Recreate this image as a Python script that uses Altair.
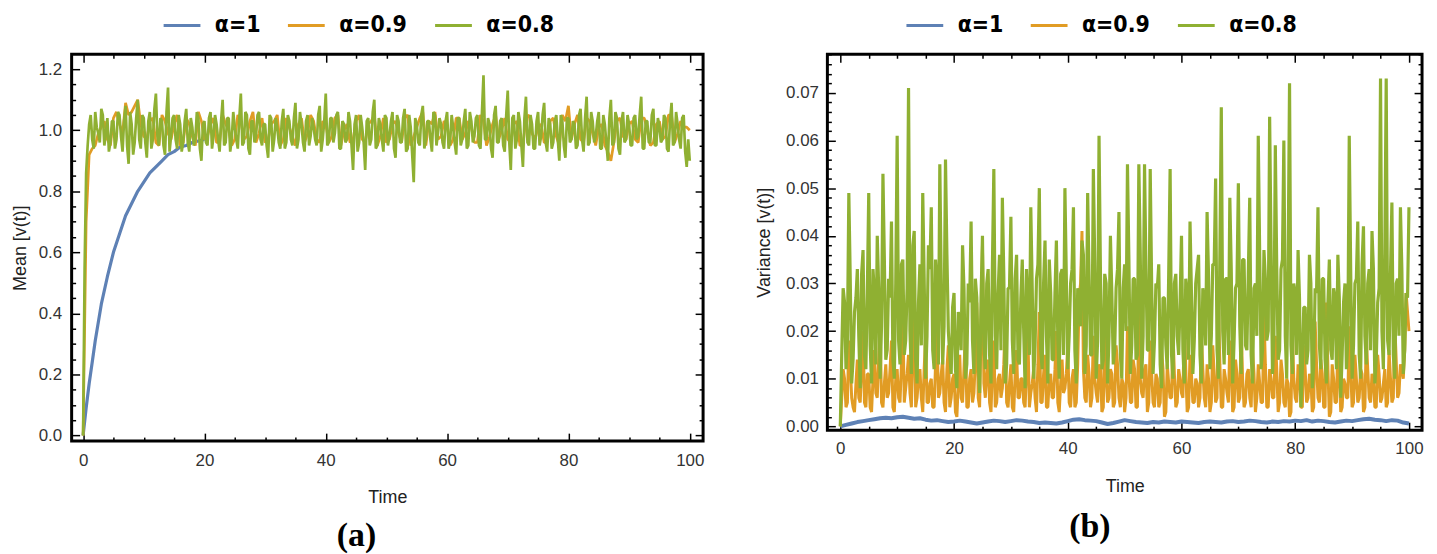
import altair as alt
import pandas as pd

# ---------------- series names / colours ----------------
SERIES = ["α=1", "α=0.9", "α=0.8"]
COLORS = ["#5E81B5", "#E19C24", "#8FB032"]

# ---------------- tick labels ----------------
X_LABELS = [0, 20, 40, 60, 80, 100]
X_MINOR = list(range(0, 101, 5))
A_Y_LABELS = [0.0, 0.2, 0.4, 0.6, 0.8, 1.0, 1.2]
A_Y_MINOR = [round(i * 0.05, 2) for i in range(25)]
B_Y_LABELS = [0.0, 0.01, 0.02, 0.03, 0.04, 0.05, 0.06, 0.07]
B_Y_MINOR = [round(i * 0.002, 3) for i in range(40)]

# time grids
T_ONE = list(range(101))                      # 0, 1, ..., 100
T_MID = [i + 0.5 for i in range(100)]         # 0.5, 1.5, ..., 99.5
T_HALF = [i / 2 for i in range(201)]          # 0, 0.5, ..., 100
T_QUARTER = [i / 2 + 0.25 for i in range(200)]  # 0.25, 0.75, ..., 99.75

# ---------------- panel (a): Mean ----------------
# blue is only visible until it disappears under the noisy curves
A_BLUE_T = [0, 0.5, 1, 1.5, 2, 3, 4, 5, 6, 7, 8, 9, 10, 11, 12, 13, 14, 15, 16, 17, 18, 19, 20]
A_BLUE_V = [0.0, 0.09, 0.17, 0.24, 0.31, 0.43, 0.52, 0.60, 0.66, 0.72, 0.76, 0.80, 0.83, 0.86,
            0.88, 0.90, 0.92, 0.93, 0.945, 0.95, 0.96, 0.965, 0.97]

# orange, at integer times
A_ORANGE_V = [
    0.00, 0.92, 0.95, 1.01, 0.97, 1.04, 1.02, 1.09, 1.06, 1.10, 0.98,
    1.03, 0.96, 1.05, 0.99, 1.02, 0.95, 1.04, 0.98, 1.06, 0.97,
    1.02, 0.96, 1.05, 1.00, 0.97, 1.03, 0.98, 1.06, 0.99, 0.96,
    1.02, 1.05, 0.97, 1.01, 0.95, 1.04, 0.99, 1.03, 0.96, 1.02,
    0.98, 1.05, 1.00, 0.96, 1.03, 0.97, 1.02, 1.05, 0.98, 0.96,
    1.02, 0.99, 1.04, 0.95, 1.01, 1.06, 1.03, 1.06, 0.98, 1.02,
    0.97, 1.04, 0.99, 1.01, 0.96, 1.03, 0.98, 1.05, 1.00, 0.97,
    1.02, 0.95, 1.04, 0.99, 1.01, 0.96, 1.03, 0.98, 1.05, 1.08,
    1.02, 0.97, 1.04, 0.99, 1.01, 0.95, 0.90, 1.03, 0.98, 1.02,
    0.97, 1.04, 1.00, 0.96, 1.03, 0.98, 1.05, 0.99, 1.01, 1.00]
# orange, at half times
A_ORANGE_M = [
    0.70, 0.94, 0.99, 1.03, 0.95, 1.06, 0.99, 1.05, 1.08, 1.02,
    0.97, 1.04, 0.95, 1.03, 0.97, 1.05, 0.96, 1.02, 0.95, 1.03,
    0.98, 1.04, 0.96, 1.02, 0.95, 1.05, 0.97, 1.03, 0.96, 1.04,
    0.97, 1.03, 0.95, 1.04, 0.98, 1.02, 0.96, 1.05, 0.97, 1.03,
    0.96, 1.04, 0.95, 1.02, 0.97, 1.05, 0.96, 1.03, 0.95, 1.04,
    0.97, 1.03, 0.96, 1.05, 0.98, 1.04, 0.95, 1.02, 0.97, 1.03,
    0.95, 1.04, 0.97, 1.03, 0.96, 1.05, 0.95, 1.02, 0.97, 1.04,
    0.96, 1.03, 0.95, 1.05, 0.97, 1.02, 0.96, 1.04, 0.95, 1.03,
    0.97, 1.05, 0.96, 1.03, 0.95, 1.02, 0.93, 0.96, 1.04, 0.97,
    1.03, 0.96, 1.04, 0.95, 1.02, 0.97, 1.05, 0.96, 1.03, 1.01]

# green, at 0, 0.5, ..., 100
A_GREEN_V = [
    0.00, 0.86, 1.02, 0.97, 1.06, 0.99, 1.07, 0.95, 1.04, 0.96,
    1.03, 0.97, 1.05, 0.93, 1.08, 0.89, 1.02, 0.96, 1.10, 0.94,
    1.04, 0.91, 1.06, 0.97, 1.12, 0.95, 1.03, 0.92, 1.14, 0.98,
    1.05, 0.94, 1.02, 0.96, 1.07, 0.93, 1.01, 0.97, 1.04, 0.90,
    1.03, 0.95, 1.06, 0.98, 1.02, 0.93, 1.10, 0.96, 1.04, 0.97,
    1.01, 0.94, 1.12, 0.96, 1.05, 0.92, 1.03, 0.98, 1.06, 0.95,
    1.02, 0.91, 1.04, 0.97, 1.01, 0.94, 1.07, 0.96, 1.03, 0.95,
    1.09, 0.97, 1.02, 0.93, 1.05, 0.98, 1.01, 0.95, 1.08, 0.97,
    1.12, 0.96, 1.04, 0.99, 1.06, 0.94, 1.02, 0.97, 1.03, 0.87,
    1.05, 0.96, 1.01, 0.87, 1.04, 0.97, 1.10, 0.95, 1.02, 0.93,
    1.04, 0.98, 1.06, 0.91, 1.03, 0.96, 1.07, 0.94, 1.01, 0.83,
    1.02, 0.95, 1.08, 0.97, 1.03, 0.93, 1.05, 0.99, 1.02, 0.94,
    1.06, 0.96, 1.01, 0.92, 1.04, 0.97, 1.07, 0.95, 1.03, 0.98,
    1.05, 0.94, 1.18, 0.97, 1.02, 0.91, 1.08, 0.96, 1.04, 0.93,
    1.13, 0.87, 1.05, 0.97, 1.03, 0.88, 1.11, 0.95, 1.02, 0.94,
    1.06, 0.98, 1.09, 0.93, 1.02, 0.96, 1.05, 0.90, 1.03, 0.91,
    1.04, 0.97, 1.02, 0.95, 1.07, 0.93, 1.11, 0.96, 1.03, 0.98,
    1.06, 0.94, 1.02, 0.90, 1.10, 0.96, 1.04, 0.92, 1.06, 0.97,
    1.02, 0.95, 1.05, 0.98, 1.11, 0.94, 1.03, 0.96, 1.07, 0.95,
    1.01, 0.97, 1.04, 0.93, 1.09, 0.96, 1.02, 0.94, 1.05, 0.88,
    0.90]
# green, at 0.25, 0.75, ..., 99.75
A_GREEN_Q = [
    0.55, 0.95, 1.05, 0.94, 1.01, 0.96, 1.05, 0.99, 0.93, 1.03,
    0.94, 1.06, 0.98, 1.03, 0.95, 1.06, 0.92, 1.04, 0.97, 1.05,
    0.96, 1.03, 0.94, 1.07, 0.98, 1.04, 0.95, 1.06, 0.93, 1.04,
    0.97, 1.05, 0.93, 1.03, 0.96, 1.04, 0.95, 1.06, 0.94, 1.02,
    0.96, 1.04, 0.94, 1.05, 0.97, 1.03, 0.95, 1.04, 0.93, 1.06,
    0.97, 1.04, 0.95, 1.06, 0.94, 1.03, 0.96, 1.05, 0.97, 1.02,
    0.95, 1.05, 0.93, 1.04, 0.96, 1.03, 0.94, 1.05, 0.97, 1.04,
    0.94, 1.06, 0.96, 1.03, 0.95, 1.04, 0.97, 1.05, 0.93, 1.03,
    0.95, 1.04, 0.96, 1.05, 0.94, 1.03, 0.96, 1.06, 0.95, 1.02,
    0.93, 1.05, 0.96, 1.03, 0.95, 1.06, 0.94, 1.04, 0.97, 1.05,
    0.95, 1.03, 0.94, 1.05, 0.96, 1.04, 0.93, 1.05, 0.92, 1.04,
    0.96, 1.05, 0.94, 1.03, 0.97, 1.06, 0.95, 1.04, 0.96, 1.03,
    0.94, 1.05, 0.96, 1.04, 0.95, 1.03, 0.94, 1.06, 0.96, 1.04,
    0.95, 1.06, 0.97, 1.04, 0.94, 1.05, 0.96, 1.03, 0.95, 1.05,
    0.96, 1.04, 0.94, 1.06, 0.95, 1.04, 0.96, 1.05, 0.94, 1.03,
    0.95, 1.05, 0.96, 1.04, 0.94, 1.03, 0.97, 1.05, 0.95, 1.04,
    0.96, 1.03, 0.94, 1.05, 0.97, 1.04, 0.95, 1.06, 0.96, 1.03,
    0.94, 1.05, 0.96, 1.04, 0.95, 1.06, 0.94, 1.03, 0.96, 1.05,
    0.95, 1.04, 0.97, 1.05, 0.94, 1.03, 0.96, 1.05, 0.95, 1.04,
    0.96, 1.05, 0.94, 1.03, 0.95, 1.06, 0.97, 1.04, 0.93, 0.97]

# ---------------- panel (b): Variance ----------------
B_BLUE_V = [
    0.0000, 0.0003, 0.0006, 0.0009, 0.0011, 0.0013, 0.0015, 0.0017, 0.0018, 0.0017,
    0.0019, 0.0020, 0.0018, 0.0016, 0.0017, 0.0014, 0.0012, 0.0013, 0.0011, 0.0009,
    0.0010, 0.0012, 0.0010, 0.0008, 0.0006, 0.0008, 0.0010, 0.0012, 0.0011, 0.0009,
    0.0011, 0.0013, 0.0012, 0.0010, 0.0009, 0.0007, 0.0008, 0.0007, 0.0006, 0.0008,
    0.0011, 0.0014, 0.0015, 0.0013, 0.0012, 0.0011, 0.0008, 0.0005, 0.0007, 0.0010,
    0.0013, 0.0011, 0.0009, 0.0008, 0.0007, 0.0009, 0.0008, 0.0010, 0.0009, 0.0008,
    0.0010, 0.0009, 0.0008, 0.0007, 0.0009, 0.0010, 0.0009, 0.0008, 0.0010, 0.0011,
    0.0009, 0.0010, 0.0012, 0.0011, 0.0009, 0.0008, 0.0010, 0.0009, 0.0011, 0.0010,
    0.0012, 0.0011, 0.0013, 0.0010, 0.0012, 0.0011, 0.0009, 0.0008, 0.0010, 0.0012,
    0.0011, 0.0013, 0.0015, 0.0016, 0.0014, 0.0013, 0.0011, 0.0013, 0.0012, 0.0008,
    0.0006]

# orange, at 0, 0.5, ..., 100
B_ORANGE_V = [
    0.000, 0.012, 0.004, 0.018, 0.006, 0.003, 0.014, 0.005, 0.020, 0.004,
    0.011, 0.003, 0.016, 0.006, 0.022, 0.004, 0.013, 0.007, 0.018, 0.003,
    0.012, 0.005, 0.024, 0.008, 0.015, 0.004, 0.028, 0.006, 0.012, 0.003,
    0.019, 0.005, 0.010, 0.004, 0.021, 0.007, 0.014, 0.003, 0.017, 0.006,
    0.011, 0.002, 0.015, 0.005, 0.020, 0.004, 0.012, 0.007, 0.026, 0.004,
    0.038, 0.006, 0.014, 0.003, 0.018, 0.005, 0.011, 0.008, 0.022, 0.004,
    0.013, 0.003, 0.016, 0.006, 0.010, 0.004, 0.019, 0.007, 0.012, 0.003,
    0.024, 0.005, 0.015, 0.004, 0.011, 0.006, 0.020, 0.003, 0.014, 0.008,
    0.017, 0.004, 0.012, 0.005, 0.027, 0.041, 0.006, 0.015, 0.004, 0.019,
    0.007, 0.013, 0.003, 0.022, 0.005, 0.012, 0.004, 0.017, 0.006, 0.010,
    0.003, 0.021, 0.005, 0.014, 0.004, 0.025, 0.007, 0.012, 0.003, 0.018,
    0.005, 0.011, 0.004, 0.016, 0.002, 0.013, 0.006, 0.020, 0.004, 0.012,
    0.007, 0.023, 0.003, 0.015, 0.005, 0.010, 0.004, 0.019, 0.006, 0.013,
    0.003, 0.017, 0.005, 0.026, 0.004, 0.012, 0.007, 0.018, 0.003, 0.014,
    0.005, 0.021, 0.004, 0.011, 0.006, 0.016, 0.003, 0.013, 0.005, 0.024,
    0.004, 0.012, 0.006, 0.019, 0.003, 0.014, 0.005, 0.010, 0.002, 0.020,
    0.006, 0.013, 0.004, 0.017, 0.005, 0.011, 0.003, 0.022, 0.006, 0.014,
    0.004, 0.026, 0.002, 0.013, 0.005, 0.018, 0.003, 0.010, 0.006, 0.021,
    0.004, 0.015, 0.005, 0.012, 0.003, 0.019, 0.006, 0.011, 0.004, 0.015,
    0.005, 0.009, 0.004, 0.016, 0.005, 0.022, 0.006, 0.013, 0.010, 0.028,
    0.020]
# orange, at 0.25, 0.75, ..., 99.75
B_ORANGE_Q = [
    0.006, 0.010, 0.005, 0.013, 0.004, 0.009, 0.006, 0.012, 0.005, 0.011,
    0.004, 0.010, 0.007, 0.014, 0.005, 0.009, 0.006, 0.012, 0.004, 0.010,
    0.006, 0.013, 0.005, 0.011, 0.007, 0.015, 0.004, 0.010, 0.006, 0.012,
    0.005, 0.009, 0.004, 0.013, 0.006, 0.011, 0.005, 0.012, 0.004, 0.010,
    0.003, 0.009, 0.006, 0.012, 0.004, 0.010, 0.005, 0.014, 0.006, 0.020,
    0.009, 0.011, 0.005, 0.012, 0.004, 0.010, 0.006, 0.013, 0.005, 0.009,
    0.004, 0.011, 0.006, 0.010, 0.005, 0.012, 0.004, 0.009, 0.006, 0.013,
    0.005, 0.011, 0.004, 0.010, 0.006, 0.012, 0.005, 0.009, 0.007, 0.011,
    0.005, 0.010, 0.004, 0.013, 0.030, 0.012, 0.005, 0.011, 0.006, 0.010,
    0.005, 0.012, 0.004, 0.010, 0.006, 0.011, 0.005, 0.013, 0.004, 0.009,
    0.006, 0.011, 0.005, 0.012, 0.004, 0.010, 0.006, 0.013, 0.005, 0.011,
    0.004, 0.010, 0.005, 0.012, 0.003, 0.009, 0.006, 0.011, 0.005, 0.010,
    0.006, 0.012, 0.004, 0.011, 0.005, 0.009, 0.006, 0.012, 0.004, 0.010,
    0.005, 0.011, 0.006, 0.013, 0.004, 0.010, 0.005, 0.012, 0.004, 0.011,
    0.006, 0.010, 0.005, 0.012, 0.004, 0.011, 0.006, 0.009, 0.005, 0.013,
    0.004, 0.010, 0.006, 0.012, 0.005, 0.011, 0.004, 0.009, 0.003, 0.010,
    0.005, 0.011, 0.004, 0.012, 0.006, 0.010, 0.004, 0.013, 0.005, 0.011,
    0.004, 0.012, 0.003, 0.010, 0.005, 0.011, 0.004, 0.009, 0.006, 0.012,
    0.005, 0.010, 0.006, 0.011, 0.004, 0.012, 0.005, 0.010, 0.004, 0.011,
    0.006, 0.012, 0.005, 0.010, 0.006, 0.014, 0.007, 0.012, 0.016, 0.024]

# green, at 0, 0.5, ..., 100
B_GREEN_V = [
    0.000, 0.029, 0.012, 0.049, 0.009, 0.024, 0.033, 0.008, 0.037, 0.012,
    0.049, 0.009, 0.028, 0.040, 0.010, 0.053, 0.014, 0.031, 0.043, 0.010,
    0.061, 0.013, 0.035, 0.018, 0.071, 0.011, 0.041, 0.009, 0.034, 0.049,
    0.010, 0.038, 0.046, 0.012, 0.030, 0.055, 0.013, 0.056, 0.020, 0.011,
    0.028, 0.008, 0.022, 0.038, 0.010, 0.030, 0.043, 0.011, 0.027, 0.007,
    0.040, 0.012, 0.033, 0.009, 0.054, 0.012, 0.036, 0.048, 0.009, 0.029,
    0.044, 0.011, 0.036, 0.013, 0.035, 0.008, 0.026, 0.046, 0.010, 0.031,
    0.050, 0.012, 0.039, 0.009, 0.028, 0.014, 0.039, 0.010, 0.033, 0.050,
    0.012, 0.030, 0.046, 0.009, 0.027, 0.039, 0.011, 0.049, 0.015, 0.054,
    0.010, 0.061, 0.012, 0.032, 0.009, 0.040, 0.013, 0.029, 0.045, 0.010,
    0.034, 0.055, 0.011, 0.031, 0.014, 0.055, 0.010, 0.055, 0.016, 0.054,
    0.011, 0.030, 0.034, 0.008, 0.027, 0.012, 0.054, 0.010, 0.032, 0.015,
    0.040, 0.009, 0.028, 0.043, 0.011, 0.030, 0.036, 0.009, 0.026, 0.045,
    0.012, 0.034, 0.052, 0.010, 0.067, 0.013, 0.031, 0.048, 0.009, 0.029,
    0.051, 0.011, 0.035, 0.016, 0.048, 0.009, 0.030, 0.061, 0.012, 0.037,
    0.018, 0.065, 0.011, 0.059, 0.014, 0.033, 0.060, 0.010, 0.072, 0.011,
    0.028, 0.037, 0.004, 0.025, 0.013, 0.036, 0.008, 0.029, 0.046, 0.012,
    0.031, 0.009, 0.035, 0.014, 0.027, 0.036, 0.006, 0.026, 0.012, 0.061,
    0.010, 0.030, 0.043, 0.010, 0.042, 0.013, 0.033, 0.041, 0.009, 0.026,
    0.073, 0.012, 0.073, 0.015, 0.047, 0.010, 0.031, 0.046, 0.011, 0.028,
    0.046]
# green, at 0.25, 0.75, ..., 99.75
B_GREEN_Q = [
    0.015, 0.026, 0.018, 0.031, 0.014, 0.027, 0.019, 0.032, 0.015, 0.028,
    0.017, 0.033, 0.013, 0.029, 0.021, 0.035, 0.016, 0.027, 0.014, 0.030,
    0.018, 0.034, 0.015, 0.029, 0.020, 0.038, 0.014, 0.026, 0.017, 0.031,
    0.019, 0.033, 0.016, 0.035, 0.013, 0.030, 0.021, 0.036, 0.015, 0.025,
    0.012, 0.024, 0.016, 0.029, 0.013, 0.026, 0.018, 0.031, 0.014, 0.027,
    0.017, 0.030, 0.015, 0.034, 0.019, 0.028, 0.016, 0.032, 0.013, 0.029,
    0.018, 0.031, 0.014, 0.027, 0.020, 0.033, 0.015, 0.029, 0.017, 0.034,
    0.016, 0.030, 0.019, 0.035, 0.014, 0.028, 0.018, 0.032, 0.015, 0.031,
    0.019, 0.033, 0.016, 0.029, 0.021, 0.036, 0.017, 0.031, 0.015, 0.034,
    0.018, 0.032, 0.014, 0.030, 0.019, 0.028, 0.016, 0.033, 0.015, 0.029,
    0.020, 0.035, 0.017, 0.031, 0.015, 0.036, 0.019, 0.033, 0.016, 0.030,
    0.018, 0.029, 0.013, 0.027, 0.017, 0.032, 0.015, 0.030, 0.019, 0.026,
    0.016, 0.031, 0.014, 0.028, 0.018, 0.033, 0.015, 0.029, 0.017, 0.032,
    0.019, 0.034, 0.016, 0.036, 0.020, 0.031, 0.015, 0.033, 0.018, 0.030,
    0.021, 0.035, 0.017, 0.032, 0.015, 0.029, 0.019, 0.036, 0.016, 0.031,
    0.020, 0.037, 0.018, 0.033, 0.016, 0.035, 0.019, 0.034, 0.017, 0.030,
    0.015, 0.027, 0.012, 0.025, 0.016, 0.030, 0.013, 0.028, 0.017, 0.031,
    0.014, 0.026, 0.016, 0.029, 0.012, 0.027, 0.015, 0.030, 0.018, 0.033,
    0.017, 0.031, 0.015, 0.034, 0.019, 0.030, 0.016, 0.033, 0.014, 0.029,
    0.020, 0.036, 0.018, 0.032, 0.015, 0.030, 0.019, 0.033, 0.016, 0.027]

FONT = "Liberation Sans"
LEG_FONT = "Liberation Sans Narrow, DejaVu Sans Condensed, sans-serif"


def sdf(name, *pairs):
    parts = [pd.DataFrame({"t": t, "v": v}) for t, v in pairs]
    df = pd.concat(parts, ignore_index=True).sort_values("t", kind="stable")
    df["s"] = name
    return df.reset_index(drop=True)


def tick_size(step, major, minor):
    return {"condition": {"test": f"abs(datum.value/{step} - round(datum.value/{step})) < 0.001",
                          "value": major}, "value": minor}


def panel(blue, orange, green, widths, xdom, ydom, W, H, ytitle, ylabels, yminor, yfmt, ystep,
          legx, legy, caption, cap_dx, cap_off, xlp, xtp, ylp, ytp):
    xs = alt.Scale(domain=xdom, nice=False, zero=False)
    ys = alt.Scale(domain=ydom, nice=False, zero=False)
    cs = alt.Scale(domain=SERIES, range=COLORS)
    x_ax = alt.Axis(values=X_LABELS, ticks=False, tickSize=0, domain=False, grid=False,
                    title="Time", labelFont=FONT, labelFontSize=17, labelColor="#333",
                    labelPadding=xlp, titleFont=FONT, titleFontSize=18, titleFontWeight="normal",
                    titleColor="#222", titlePadding=xtp, labelFlush=False)
    y_ax = alt.Axis(values=ylabels, format=yfmt, ticks=False, tickSize=0, domain=False, grid=False,
                    title=ytitle, labelFont=FONT, labelFontSize=17, labelColor="#333",
                    labelPadding=ylp, titleFont=FONT, titleFontSize=18, titleFontWeight="normal",
                    titleColor="#222", titlePadding=ytp)
    legend = alt.Legend(orient="none", legendX=legx, legendY=legy, direction="horizontal",
                        title=None, symbolType="stroke", symbolSize=1369, symbolStrokeWidth=3,
                        labelFont=LEG_FONT, labelFontSize=23, labelFontWeight="bold",
                        labelColor="black", labelOffset=13, columnPadding=21, padding=0,
                        labelLimit=0)
    layers = []
    for i, (df, sw) in enumerate(zip([blue, orange, green], widths)):
        enc = dict(
            x=alt.X("t:Q", scale=xs, axis=x_ax if i == 0 else None),
            y=alt.Y("v:Q", scale=ys, axis=y_ax if i == 0 else None),
            color=alt.Color("s:N", scale=cs, legend=legend) if i == 0 else alt.Color("s:N", scale=cs),
        )
        layers.append(alt.Chart(df).mark_line(strokeWidth=sw, clip=True,
                                              strokeJoin="bevel").encode(**enc))

    bounds = pd.DataFrame({"t": xdom, "v": ydom})
    common = dict(labels=False, domain=False, grid=False, title=None, tickColor="black",
                  tickWidth=1.5, ticks=True)
    xt = tick_size(20, 8, 4)
    yt = tick_size(ystep, 8, 4)
    t1 = alt.Chart(bounds).mark_point(opacity=0, size=1).encode(
        x=alt.X("t:Q", scale=xs, axis=alt.Axis(orient="top", offset=-H, values=X_MINOR,
                                              tickSize=xt, **common)),
        y=alt.Y("v:Q", scale=ys, axis=alt.Axis(orient="right", offset=-W, values=yminor,
                                              tickSize=yt, **common)))
    t2 = alt.Chart(bounds).mark_point(opacity=0, size=1).encode(
        x=alt.X("t:Q", scale=xs, axis=alt.Axis(orient="bottom", offset=-H, values=X_MINOR,
                                              tickSize=xt, **common)),
        y=alt.Y("v:Q", scale=ys, axis=alt.Axis(orient="left", offset=-W, values=yminor,
                                              tickSize=yt, **common)))
    layers += [t1, t2]
    return alt.layer(*layers).resolve_axis(x="independent", y="independent").properties(
        width=W, height=H,
        title=alt.Title(caption, orient="bottom", font="Liberation Serif", fontSize=34,
                        fontWeight="bold", color="black", dx=cap_dx, offset=cap_off))


pa = panel(sdf(SERIES[0], (A_BLUE_T, A_BLUE_V)),
           sdf(SERIES[1], (T_ONE, A_ORANGE_V), (T_MID, A_ORANGE_M)),
           sdf(SERIES[2], (T_HALF, A_GREEN_V), (T_QUARTER, A_GREEN_Q)),
           [3.2, 2.7, 2.7],
           [-1.89, 102.2], [-0.0186, 1.249], 635, 389, "Mean [v(t)]",
           A_Y_LABELS, A_Y_MINOR, ".1f", 0.2,
           91, -49, "(a)", -31, 12, 12, 20, 10, 9)

pb = panel(sdf(SERIES[0], (T_ONE, B_BLUE_V)),
           sdf(SERIES[1], (T_HALF, B_ORANGE_V), (T_QUARTER, B_ORANGE_Q)),
           sdf(SERIES[2], (T_HALF, B_GREEN_V), (T_QUARTER, B_GREEN_Q)),
           [4, 3.0, 3.2],
           [-2.27, 102.3], [-0.0008, 0.0781], 598, 378, "Variance [v(t)]",
           B_Y_LABELS, B_Y_MINOR, ".2f", 0.01,
           78, -49, "(b)", -35, 14, 10, 22, 9, 12)

chart = alt.hconcat(pa, pb, spacing=125, bounds="flush").resolve_scale(
    color="independent").configure_view(stroke="black", strokeWidth=3).properties(
    padding={"left": 64, "top": 45, "right": 1365, "bottom": 501},
    autosize=alt.AutoSizeParams(type="none"),
    background="white")

chart.save("out.html", embed_options={"renderer": "svg", "actions": False})
